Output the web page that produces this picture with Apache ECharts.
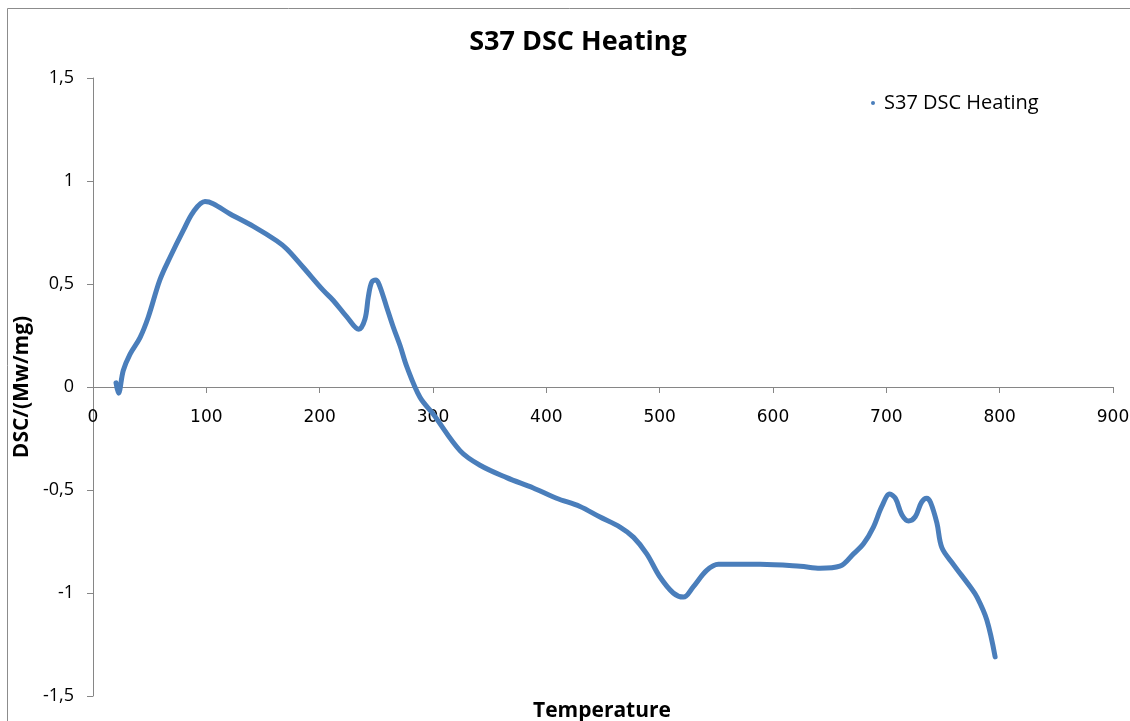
<!DOCTYPE html>
<html>
<head>
<meta charset="utf-8">
<title>S37 DSC Heating</title>
<script src="https://cdn.jsdelivr.net/npm/echarts@6/dist/echarts.min.js"></script>
<style>
  html, body { margin: 0; padding: 0; background: #ffffff; }
  #chart { width: 1130px; height: 721px; }
</style>
</head>
<body>
<div id="chart"></div>
<script>
// DSC heating curve of sample S37: temperature (°C) and heat flow (mW/mg)
const temperature = [
  20.3, 22.5, 26.7, 32.7, 41.5, 48.8, 59, 68, 79.7, 88.5, 98.8, 106, 121, 141.5, 162, 171,
  185.6, 203, 212, 224, 234.5, 240, 243, 246, 249.8, 253, 259, 265, 271, 276.8, 288.5, 300, 324,
  341.5, 365, 388.5, 409, 429.7, 447, 465, 477, 488.6, 500, 512, 521, 529.6, 541.5,
  551.8, 588.6, 624, 641.6, 659, 671, 680, 688.6, 696, 703, 708, 713.7, 719.6, 725.5,
  731, 735.6, 739, 744.6, 749, 759, 774, 780, 788.6, 796
];
const dsc = [
  0.02, -0.03, 0.08, 0.16, 0.24, 0.34, 0.52, 0.63, 0.76, 0.85, 0.90, 0.89, 0.84, 0.78, 0.71, 0.67,
  0.58, 0.47, 0.42, 0.34, 0.28, 0.33, 0.44, 0.51, 0.52, 0.49, 0.39, 0.29, 0.20, 0.10, -0.05, -0.13, -0.31,
  -0.38, -0.44, -0.49, -0.54, -0.58, -0.63, -0.68, -0.73, -0.81, -0.92, -1.00, -1.02, -0.97, -0.89,
  -0.86, -0.86, -0.87, -0.88, -0.87, -0.81, -0.76, -0.68, -0.58, -0.52, -0.54, -0.62, -0.65, -0.63,
  -0.56, -0.54, -0.56, -0.66, -0.78, -0.86, -0.97, -1.02, -1.13, -1.31
];
const seriesName = 'S37 DSC Heating';
const xTicks = { min: 0, max: 900, step: 100 };
const yTicks = { min: -1.5, max: 1.5, step: 0.5 };

const points = temperature.map((t, i) => [t, dsc[i]]);
const axisGray = '#868686';

// plot area in pixels
const plot = { left: 93, right: 17, top: 78, bottom: 25 };
// the temperature axis is drawn where DSC = 0: an upper grid that ends at that level
const zeroFrac = yTicks.max / (yTicks.max - yTicks.min);
const plotHeight = 721 - plot.top - plot.bottom;
const zeroGridHeight = Math.round(plotHeight * zeroFrac);

const chart = echarts.init(document.getElementById('chart'));
chart.setOption({
  backgroundColor: '#ffffff',
  animation: false,
  title: {
    text: 'S37 DSC Heating',
    left: 573,
    textAlign: 'center',
    top: 24,
    textStyle: { fontFamily: 'Open Sans', fontWeight: 'bold', fontSize: 27, color: '#000' }
  },
  legend: {
    data: [seriesName],
    left: 866,
    top: 88,
    icon: 'circle',
    itemWidth: 4,
    itemHeight: 4,
    itemGap: 0,
    textStyle: { fontFamily: 'Open Sans', fontSize: 20, color: '#000', padding: [0, 0, 0, 4] }
  },
  graphic: [{
    type: 'rect',
    shape: { x: 7.5, y: 8.5, width: 1200, height: 800 },
    style: { fill: 'none', stroke: '#8c8c8c', lineWidth: 1 },
    silent: true,
    z: -10
  }, {
    // horizontal axis title, centred under the plot area
    type: 'text',
    left: 533,
    top: 701,
    style: {
      text: 'Temperature',
      font: 'bold 21px "Open Sans"',
      fill: '#000'
    },
    silent: true
  }],
  grid: [
    { left: plot.left, right: plot.right, top: plot.top, bottom: plot.bottom, outerBoundsMode: 'none' },
    { left: plot.left, right: plot.right, top: plot.top, height: zeroGridHeight, outerBoundsMode: 'none' }
  ],
  xAxis: [{
    // data axis of the plot (drawn on the zero line by the second grid)
    gridIndex: 0,
    type: 'value',
    min: xTicks.min,
    max: xTicks.max,
    interval: xTicks.step,
    show: false
  }, {
    gridIndex: 1,
    type: 'value',
    position: 'bottom',
    min: xTicks.min,
    max: xTicks.max,
    interval: xTicks.step,
    axisLine: { show: true, onZero: false, lineStyle: { color: axisGray, width: 1 } },
    axisTick: { show: true, length: 6, lineStyle: { color: axisGray } },
    axisLabel: { margin: 22, fontFamily: 'DejaVu Sans', fontSize: 17, color: '#000' },
    splitLine: { show: false }
  }],
  yAxis: [{
    gridIndex: 0,
    type: 'value',
    min: yTicks.min,
    max: yTicks.max,
    interval: yTicks.step,
    name: 'DSC/(Mw/mg)',
    nameLocation: 'middle',
    nameGap: 44,
    nameRotate: 90,
    nameTextStyle: { fontFamily: 'Open Sans', fontWeight: 'bold', fontSize: 21, color: '#000' },
    axisLine: { show: true, lineStyle: { color: axisGray, width: 1 } },
    axisTick: { show: true, length: 6, lineStyle: { color: axisGray } },
    axisLabel: {
      margin: 19,
      fontFamily: 'Open Sans',
      fontSize: 18,
      color: '#000',
      formatter: v => String(Math.round(v * 10) / 10).replace('.', ',')
    },
    splitLine: { show: false }
  }, {
    gridIndex: 1,
    type: 'value',
    min: 0,
    max: yTicks.max,
    show: false
  }],
  series: [{
    name: seriesName,
    type: 'line',
    xAxisIndex: 0,
    yAxisIndex: 0,
    data: points,
    smooth: 0.35,
    showSymbol: false,
    symbol: 'circle',
    symbolSize: 4,
    itemStyle: { color: '#4a7ebb' },
    lineStyle: { color: '#4a7ebb', width: 5, cap: 'round', join: 'round' }
  }]
});
</script>
</body>
</html>
